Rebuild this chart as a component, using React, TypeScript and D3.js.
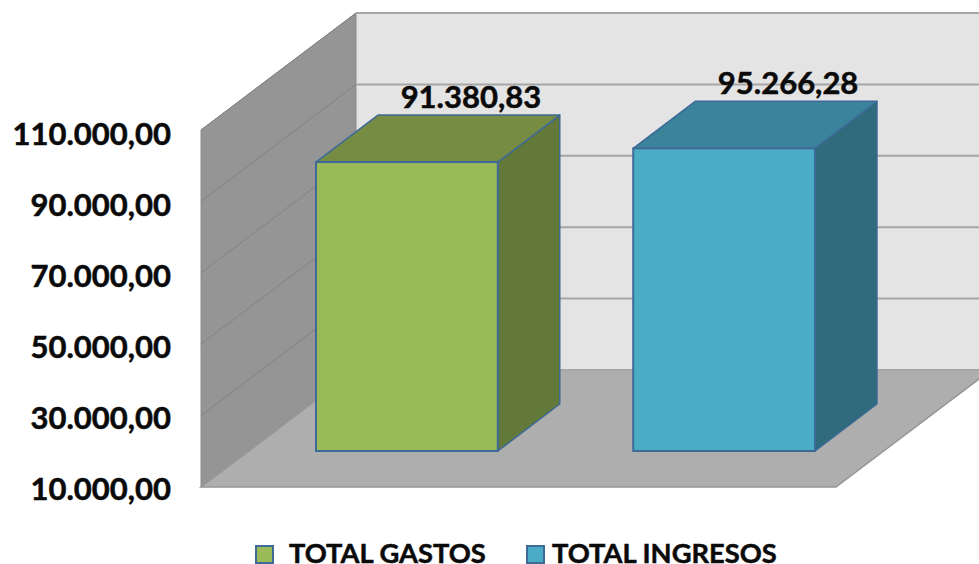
import React from 'react';
import * as d3 from 'd3';

const categories = ['TOTAL GASTOS', 'TOTAL INGRESOS'];
const values = [91380.83, 95266.28];
const axisTicks = [10000, 30000, 50000, 70000, 90000, 110000];
const faceColors = ['#9bbb59', '#4bacc6'];
const topColors = ['#768c43', '#3b839a'];
const sideColors = ['#63793a', '#2f6b7c'];
const legendSwatchX = [256, 527];
const legendTextX = [289, 552];

const width = 979;
const height = 564;
const font = 'Lato, "Open Sans", sans-serif';
const border = '#3d6a97';
const ink = '#0a0a0a';

const wall = { x: 201, top: 130, bottom: 487, right: 836, dx: 155, dy: -117 };
const barDepth = { dx: 62, dy: -47 };

const fmt = d3.formatLocale({ decimal: ',', thousands: '.', grouping: [3], currency: ['', ''] }).format(',.2f');

const App = () => {
    const yAxis = d3.scaleLinear().domain([10000, 110000]).range([wall.bottom, wall.top]);
    const yLabel = d3.scaleLinear().domain([10000, 110000]).range([500, 145]);
    const yBar = d3.scaleLinear().domain([10000, 110000]).range([451, 96]);
    const x = d3.scaleBand<string>().domain(categories).range([316, 815]).paddingInner(0.427);
    const poly = d3.line();

    const wallPts: [number, number][] = [
        [wall.x, wall.top],
        [wall.x + wall.dx, wall.top + wall.dy],
        [wall.x + wall.dx, wall.bottom + wall.dy],
        [wall.x, wall.bottom],
    ];
    const floorPts: [number, number][] = [
        [wall.x, wall.bottom],
        [wall.right, wall.bottom],
        [wall.right + wall.dx, wall.bottom + wall.dy],
        [wall.x + wall.dx, wall.bottom + wall.dy],
    ];

    return (
        <svg width={width} height={height} style={{ position: 'absolute', left: 0, top: 0, background: '#fff' }}>
            {/* back wall */}
            <rect x={wall.x + wall.dx} y={wall.top + wall.dy} width={width} height={wall.bottom - wall.top} fill="#e4e4e4" />
            <path d={poly(wallPts) + 'Z'} fill="#959595" stroke="#8b8b8b" strokeWidth={1} />
            <path d={poly(floorPts) + 'Z'} fill="#aeaeae" stroke="#969696" strokeWidth={1.5} />

            {/* gridlines */}
            {axisTicks.map(t => (
                <g key={t}>
                    <line x1={wall.x + wall.dx} x2={width} y1={yAxis(t) + wall.dy} y2={yAxis(t) + wall.dy} stroke="#a6a6a6" strokeWidth={2} />
                    {t > 10000 && (
                        <line x1={wall.x} x2={wall.x + wall.dx} y1={yAxis(t)} y2={yAxis(t) + wall.dy} stroke="#828282" strokeWidth={1} />
                    )}
                    <text x={171} y={yLabel(t)} textAnchor="end" fontFamily={font} fontWeight={700} fontSize={31} fill={ink} stroke={ink} strokeWidth={0.5}>
                        {fmt(t)}
                    </text>
                </g>
            ))}

            {/* bars */}
            {categories.map((c, i) => {
                const x0 = x(c) as number;
                const x1 = x0 + x.bandwidth();
                const yTop = yBar(values[i]);
                const yBase = yBar(10000);
                const top: [number, number][] = [
                    [x0, yTop],
                    [x0 + barDepth.dx, yTop + barDepth.dy],
                    [x1 + barDepth.dx, yTop + barDepth.dy],
                    [x1, yTop],
                ];
                const side: [number, number][] = [
                    [x1, yTop],
                    [x1 + barDepth.dx, yTop + barDepth.dy],
                    [x1 + barDepth.dx, yBase + barDepth.dy],
                    [x1, yBase],
                ];
                return (
                    <g key={c}>
                        <path d={poly(side) + 'Z'} fill={sideColors[i]} stroke={border} strokeWidth={1.5} strokeLinejoin="round" />
                        <path d={poly(top) + 'Z'} fill={topColors[i]} stroke={border} strokeWidth={1.5} strokeLinejoin="round" />
                        <rect x={x0} y={yTop} width={x.bandwidth()} height={yBase - yTop} fill={faceColors[i]} stroke={border} strokeWidth={2} />
                        <text
                            x={(x0 + x1) / 2 + barDepth.dx + 2}
                            y={yTop + barDepth.dy - 7}
                            textAnchor="middle"
                            fontFamily={font}
                            fontWeight={700}
                            fontSize={31}
                            fill={ink}
                            stroke={ink}
                            strokeWidth={0.5}
                        >
                            {fmt(values[i])}
                        </text>
                    </g>
                );
            })}

            {/* legend */}
            {categories.map((c, i) => (
                <g key={c}>
                    <rect x={legendSwatchX[i]} y={546} width={17} height={17} fill={faceColors[i]} stroke={border} strokeWidth={2} />
                    <text x={legendTextX[i]} y={563} fontFamily={font} fontWeight={700} fontSize={27.3} fill={ink} stroke={ink} strokeWidth={0.5}>
                        {c}
                    </text>
                </g>
            ))}
        </svg>
    );
};

export default App;
